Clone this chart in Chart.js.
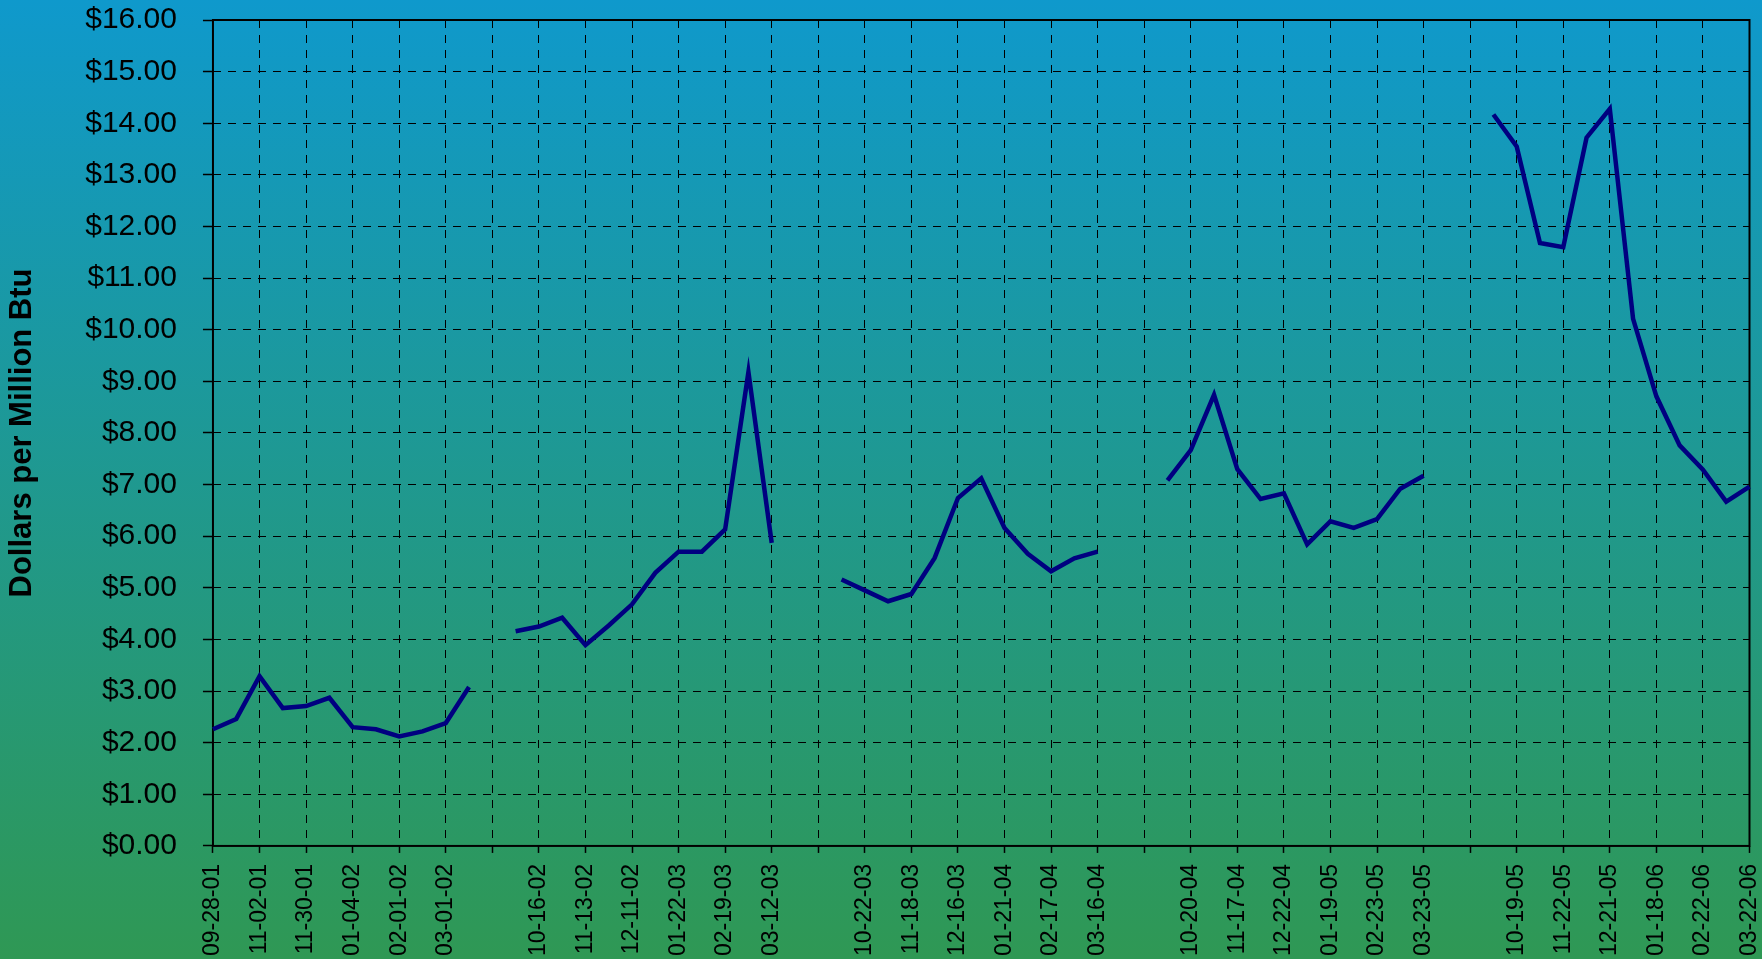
<!DOCTYPE html>
<html>
<head>
<meta charset="utf-8">
<title>Natural gas price</title>
<script src="https://cdn.jsdelivr.net/npm/chart.js@4.4.1/dist/chart.umd.min.js"></script>
<style>
  html, body { margin: 0; padding: 0; overflow: hidden; }
  #wrap { position: relative; width: 1762px; height: 959px; }
</style>
</head>
<body>
<div id="wrap"><canvas id="myChart"></canvas></div>
<script>
/* tick dates, one every 2 points ('' = unlabeled tick between winters) */
const tickDates = [
    '09-28-01', '11-02-01', '11-30-01', '01-04-02', '02-01-02', '03-01-02', '',
    '10-16-02', '11-13-02', '12-11-02', '01-22-03', '02-19-03', '03-12-03', '',
    '10-22-03', '11-18-03', '12-16-03', '01-21-04', '02-17-04', '03-16-04', '',
    '10-20-04', '11-17-04', '12-22-04', '01-19-05', '02-23-05', '03-23-05', '',
    '10-19-05', '11-22-05', '12-21-05', '01-18-06', '02-22-06', '03-22-06'
];

/* $ per million Btu, null = gap between winters */
const prices = [
    2.26, 2.46, 3.29, 2.67, 2.71, 2.87, 2.30, 2.26, 2.12, 2.22, 2.38, 3.08,
    null,
    4.16, 4.25, 4.42, 3.89, 4.27, 4.68, 5.29, 5.70, 5.70, 6.13, 9.18, 5.87,
    null, null,
    5.16, 4.95, 4.74, 4.88, 5.58, 6.74, 7.12, 6.16, 5.66, 5.32, 5.57, 5.70,
    null, null,
    7.08, 7.67, 8.74, 7.30, 6.72, 6.83, 5.84, 6.29, 6.16, 6.33, 6.92, 7.17,
    null, null,
    14.17, 13.55, 11.68, 11.60, 13.72, 14.28, 10.21, 8.71, 7.76, 7.29, 6.67, 6.96
];

const yTitle = 'Dollars per Million Btu';
const FONT = 'Arial, "Liberation Sans", sans-serif';

// one category per point, labels only on the even ones
var labels = [];
for (var i = 0; i < prices.length; i++) {
    labels.push(i % 2 === 0 ? tickDates[i / 2] : '');
}

/* fond degrade + cadre du graphique */
const background = {
    id: 'background',
    beforeDraw(chart) {
        const ctx = chart.ctx;
        const g = ctx.createLinearGradient(0, 0, 0, chart.height);
        g.addColorStop(0, '#0f99cc');
        g.addColorStop(1, '#2f9854');
        ctx.save();
        ctx.fillStyle = g;
        ctx.fillRect(0, 0, chart.width, chart.height);
        ctx.restore();
    },
    beforeDatasetsDraw(chart) {
        const a = chart.chartArea;
        const ctx = chart.ctx;
        ctx.save();
        ctx.strokeStyle = '#000';
        ctx.lineWidth = 2;
        ctx.strokeRect(a.left, a.top, a.right - a.left, a.bottom - a.top);
        ctx.restore();
    }
};

const evenOnly = function(c) {
    return c.index % 2 === 0 ? '#000' : 'rgba(0,0,0,0)';
};

const ctx = document.getElementById('myChart').getContext('2d');
const myChart = new Chart(ctx, {
    type: 'line',
    data: {
        labels: labels,
        datasets: [{
            label: 'Price',
            data: prices,
            borderColor: '#000080',
            borderWidth: 4.5,
            pointRadius: 0,
            tension: 0,
            spanGaps: false,
            fill: false
        }]
    },
    options: {
        responsive: true,
        maintainAspectRatio: false,
        animation: false,
        layout: {
            padding: { left: 0, top: 20, right: 12.5, bottom: -8 }
        },
        plugins: {
            legend: { display: false },
            tooltip: { enabled: false }
        },
        scales: {
            x: {
                offset: false,
                grid: {
                    color: evenOnly,
                    tickColor: evenOnly,
                    lineWidth: 1,
                    tickLength: 7,
                    tickWidth: 1.5
                },
                border: { display: false, dash: [8, 7] },
                ticks: {
                    autoSkip: false,
                    maxRotation: 90,
                    minRotation: 90,
                    padding: 11,
                    color: '#000',
                    font: { family: FONT, size: 23 }
                },
                // no extra room for the last rotated label
                afterFit: function(s) {
                    s.paddingLeft = 0;
                    s.paddingRight = 0;
                }
            },
            y: {
                min: 0,
                max: 16,
                grid: {
                    color: '#000',
                    tickColor: '#000',
                    lineWidth: 1,
                    tickLength: 10,
                    tickWidth: 1.5
                },
                border: { display: false, dash: [8, 7] },
                ticks: {
                    stepSize: 1,
                    padding: 26,
                    color: '#000',
                    font: { family: FONT, size: 30 },
                    callback: function(v) {
                        return '$' + v.toFixed(2);
                    }
                },
                title: {
                    display: true,
                    text: yTitle,
                    color: '#000',
                    padding: { top: 4, bottom: 18 },
                    font: { family: FONT, size: 31, weight: 'bold' }
                },
                afterFit: function(s) {
                    s.paddingTop = 0;
                    s.paddingBottom = 0;
                }
            }
        }
    },
    plugins: [background]
});
</script>
</body>
</html>
